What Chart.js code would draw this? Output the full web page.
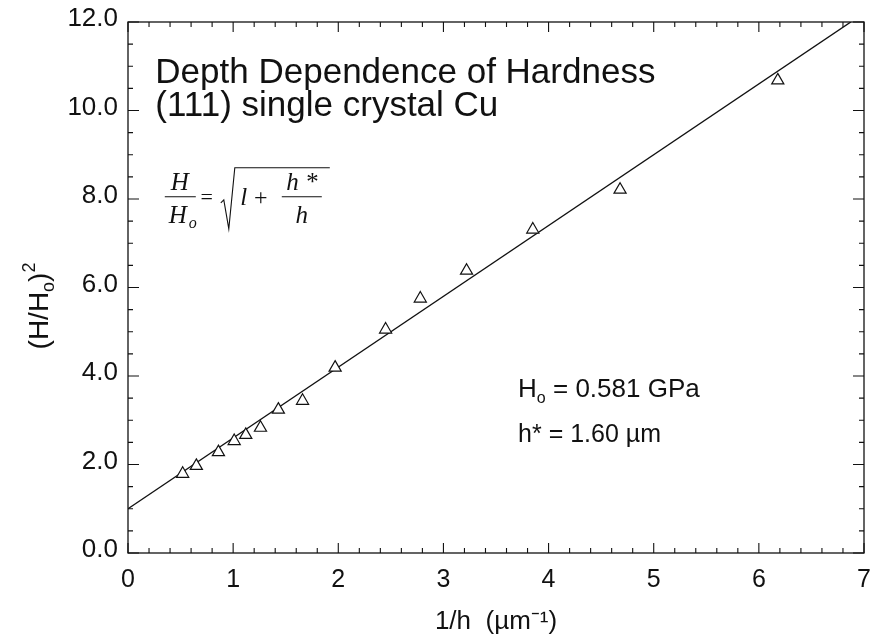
<!DOCTYPE html>
<html>
<head>
  <script src="https://cdn.jsdelivr.net/npm/chart.js@4/dist/chart.umd.min.js"></script>
  <style>
    body { margin: 0; background: #fff; }
  </style>
</head>
<body>
<canvas id="hardness" width="873" height="641"></canvas>
<script>
  // measured points: inverse indentation depth vs squared hardness ratio
  var invDepth   = [0.52, 0.65, 0.86, 1.01, 1.12, 1.26, 1.43, 1.66, 1.97, 2.45, 2.78, 3.22, 3.85, 4.68, 6.18];
  var hardnessSq = [1.79, 1.97, 2.28, 2.53, 2.67, 2.83, 3.24, 3.44, 4.19, 5.05, 5.75, 6.38, 7.31, 8.21, 10.68];

  // fitted line (H0 = 0.581 GPa, h* = 1.60 um): intercept 1, slope h*
  var fitX = [0, 6.875];
  var fitY = [1.0, 12.0];

  var xTickLabels = ['0', '1', '2', '3', '4', '5', '6', '7'];
  var yTickLabels = ['0.0', '2.0', '4.0', '6.0', '8.0', '10.0', '12.0'];

  var INK = '#111';
  var SANS = '"Liberation Sans", Arial, sans-serif';
  var SERIF = '"Liberation Serif", "Times New Roman", serif';

  // write text pieces one after another, some of them raised or lowered
  function runText(ctx, x, y, parts) {
    parts.forEach(function (p) {
      ctx.font = p.font;
      ctx.fillText(p.t, x, y + (p.dy || 0));
      x += ctx.measureText(p.t).width;
    });
    return x;
  }

  // frame with inward ticks on all four sides, plus the text notes
  var framePlugin = {
    id: 'frame',
    afterDraw: function (chart) {
      var ctx = chart.ctx;
      var xs = chart.scales.x, ys = chart.scales.y;
      var a = chart.chartArea;
      ctx.save();
      ctx.strokeStyle = INK;
      ctx.lineWidth = 1.3;
      ctx.strokeRect(a.left, a.top, a.right - a.left, a.bottom - a.top);

      ctx.lineWidth = 1.1;
      ctx.beginPath();
      for (var i = 0; i <= 35; i++) {
        var px = xs.getPixelForValue(i * 0.2);
        var len = (i % 5 === 0) ? 10 : 5;
        ctx.moveTo(px, a.bottom); ctx.lineTo(px, a.bottom - len);
        ctx.moveTo(px, a.top); ctx.lineTo(px, a.top + len);
      }
      for (var j = 0; j <= 24; j++) {
        var py = ys.getPixelForValue(j * 0.5);
        var l2 = (j % 4 === 0) ? 11 : 5;
        ctx.moveTo(a.left, py); ctx.lineTo(a.left + l2, py);
        ctx.moveTo(a.right, py); ctx.lineTo(a.right - l2, py);
      }
      ctx.stroke();

      ctx.fillStyle = INK;
      ctx.textAlign = 'left';
      ctx.textBaseline = 'alphabetic';

      // y axis title, rotated
      ctx.save();
      ctx.translate(48, 306);
      ctx.rotate(-Math.PI / 2);
      var parts = [
        { t: '(H/H', font: '28px ' + SANS },
        { t: 'o', font: '18px ' + SANS, dy: 6 },
        { t: ')', font: '28px ' + SANS },
        { t: '2', font: '18px ' + SANS, dy: -13 }
      ];
      var tw = 0;
      parts.forEach(function (p) { ctx.font = p.font; tw += ctx.measureText(p.t).width; });
      runText(ctx, -tw / 2, 0, parts);
      ctx.restore();

      // heading
      ctx.font = '35px ' + SANS;
      ctx.fillText('Depth Dependence of Hardness', xs.getPixelForValue(0.26), ys.getPixelForValue(10.62));
      ctx.fillText('(111) single crystal Cu', xs.getPixelForValue(0.26), ys.getPixelForValue(9.87));

      // parameters of the fit
      var hx = xs.getPixelForValue(3.71);
      runText(ctx, hx, ys.getPixelForValue(3.52), [
        { t: 'H', font: '26px ' + SANS },
        { t: 'o', font: '16px ' + SANS, dy: 6 },
        { t: ' = 0.581 GPa', font: '26px ' + SANS }
      ]);
      ctx.font = '25px ' + SANS;
      ctx.fillText('h* = 1.60 \u00b5m', hx, ys.getPixelForValue(2.5));

      // H/Ho = sqrt(1 + h*/h)
      var ax = xs.getPixelForValue(0.35), ay = ys.getPixelForValue(8.05);
      ctx.textAlign = 'center';
      ctx.font = 'italic 25px ' + SERIF;
      ctx.fillText('H', ax + 15, ay - 7);
      ctx.fillText('H', ax + 13, ay + 26);
      ctx.font = 'italic 16px ' + SERIF;
      ctx.fillText('o', ax + 28, ay + 31);
      ctx.font = '22px ' + SERIF;
      ctx.fillText('=', ax + 42, ay + 7);
      ctx.font = 'italic 25px ' + SERIF;
      ctx.fillText('l', ax + 79, ay + 8);
      ctx.font = '24px ' + SERIF;
      ctx.fillText('+', ax + 96, ay + 8);
      ctx.font = 'italic 25px ' + SERIF;
      ctx.fillText('h *', ax + 137, ay - 7);
      ctx.fillText('h', ax + 137, ay + 26);

      ctx.lineWidth = 1.1;
      ctx.beginPath();
      ctx.moveTo(ax, ay); ctx.lineTo(ax + 31, ay);
      ctx.moveTo(ax + 117, ay); ctx.lineTo(ax + 157, ay);
      ctx.moveTo(ax + 56, ay + 6); ctx.lineTo(ax + 59, ay + 3);
      ctx.lineTo(ax + 64, ay + 32); ctx.lineTo(ax + 70, ay - 29);
      ctx.lineTo(ax + 165, ay - 29);
      ctx.stroke();
      ctx.restore();
    }
  };

  new Chart(document.getElementById('hardness').getContext('2d'), {
    type: 'scatter',
    data: {
      datasets: [
        {
          label: 'fit',
          data: fitX.map(function (x, i) { return { x: x, y: fitY[i] }; }),
          showLine: true,
          borderColor: INK,
          borderWidth: 1.4,
          pointRadius: 0,
          order: 2
        },
        {
          label: '(111) Cu',
          data: invDepth.map(function (x, i) { return { x: x, y: hardnessSq[i] }; }),
          pointStyle: 'triangle',
          pointRadius: 7,
          backgroundColor: '#fff',
          borderColor: INK,
          borderWidth: 1.2,
          order: 1
        }
      ]
    },
    options: {
      responsive: false,
      animation: false,
      devicePixelRatio: 1,
      layout: { padding: { top: 22, right: 9, left: 0, bottom: 0 } },
      plugins: { legend: { display: false }, tooltip: { enabled: false } },
      scales: {
        x: {
          type: 'linear',
          min: 0, max: 7,
          grid: { display: false, drawTicks: false },
          border: { display: false },
          ticks: {
            stepSize: 1,
            padding: 12,
            color: INK,
            font: { family: SANS, size: 25 },
            callback: function (v) { return xTickLabels[Math.round(v)]; }
          },
          title: {
            display: true,
            text: '1/h  (\u00b5m\u207b\u00b9)',
            color: INK,
            font: { family: SANS, size: 26 },
            padding: { top: 0, bottom: 4 }
          },
          afterFit: function (s) { s.height = 88; s.paddingLeft = 0; s.paddingRight = 0; }
        },
        y: {
          type: 'linear',
          min: 0, max: 12,
          grid: { display: false, drawTicks: false },
          border: { display: false },
          ticks: {
            stepSize: 2,
            padding: 10,
            labelOffset: -3,
            color: INK,
            font: { family: SANS, size: 26 },
            callback: function (v) { return yTickLabels[Math.round(v / 2)]; }
          },
          afterFit: function (s) { s.width = 128; s.paddingTop = 0; s.paddingBottom = 0; }
        }
      }
    },
    plugins: [framePlugin]
  });
</script>
</body>
</html>
